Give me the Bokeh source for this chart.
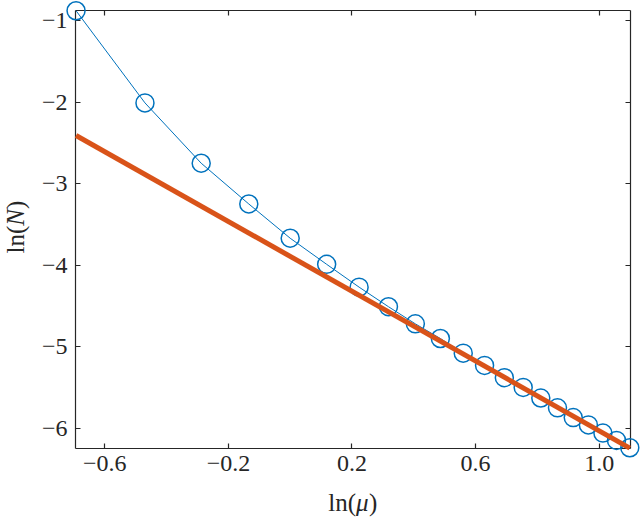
from bokeh.plotting import figure
from bokeh.models import LinearAxis, FixedTicker, Range1d, CustomLabelingPolicy
from bokeh.core.properties import value
from bokeh.embed import file_html
from bokeh.resources import INLINE

# data
ln_mu = [-0.693, -0.470, -0.288, -0.134, 0.0, 0.118, 0.223, 0.318, 0.405, 0.486,
         0.560, 0.629, 0.693, 0.754, 0.811, 0.865, 0.916, 0.965, 1.012, 1.056, 1.099]
ln_N = [-0.88, -2.01, -2.75, -3.25, -3.67, -3.99, -4.27, -4.51, -4.72, -4.90,
        -5.08, -5.23, -5.38, -5.50, -5.63, -5.75, -5.87, -5.96, -6.06, -6.15, -6.24]
fit_x = [-0.693, 1.099]
fit_y = [-2.41, -6.244]

x_ticks = [-0.6, -0.2, 0.2, 0.6, 1.0]
x_tick_labels = ["\u22120.6", "\u22120.2", "0.2", "0.6", "1.0"]
y_ticks = [-6, -5, -4, -3, -2, -1]
y_tick_labels = ["\u22126", "\u22125", "\u22124", "\u22123", "\u22122", "\u22121"]

X0, X1 = -0.6948, 1.1013
Y0, Y1 = -6.249, -0.877

FONT = "Liberation Serif"
INK = "#262626"
BLUE = "#0072BD"
ORANGE = "#D95319"

p = figure(width=640, height=517, output_backend="svg", toolbar_location=None,
           x_range=Range1d(X0, X1), y_range=Range1d(Y0, Y1),
           min_border_left=75, min_border_right=10, min_border_top=10,
           min_border_bottom=69)
p.grid.visible = False
p.outline_line_color = None
p.background_fill_color = "white"
p.border_fill_color = "white"


def style(ax, ticks, labels=None):
    ax.ticker = FixedTicker(ticks=ticks)
    ax.major_tick_in = 5
    ax.major_tick_out = 0
    ax.minor_tick_in = 0
    ax.minor_tick_out = 0
    ax.axis_line_color = INK
    ax.axis_line_width = 1.2
    ax.major_tick_line_color = INK
    ax.major_tick_line_width = 1.2
    ax.major_label_text_font = FONT
    ax.major_label_text_color = INK
    if labels is None:
        # mirrored axis: ticks only, no labels drawn
        ax.major_label_text_font_size = "0px"
        ax.major_label_standoff = 0
        ax.major_label_policy = CustomLabelingPolicy(
            code="for (const i of indices) indices.unset(i)")
    else:
        ax.major_label_text_font_size = "24px"
        ax.major_label_overrides = {t: s for t, s in zip(ticks, labels)}


style(p.xaxis[0], x_ticks, x_tick_labels)
p.xaxis[0].major_label_standoff = 7
style(p.yaxis[0], y_ticks, y_tick_labels)
p.yaxis[0].major_label_standoff = 8

top = LinearAxis()
style(top, x_ticks)
p.add_layout(top, "above")
right = LinearAxis()
style(right, y_ticks)
p.add_layout(right, "right")

p.line(ln_mu, ln_N, line_color=BLUE, line_width=1, level="overlay")
p.scatter(ln_mu, ln_N, marker="circle", size=18, fill_color=None,
          line_color=BLUE, line_width=1.5, level="overlay")
p.line(fit_x, fit_y, line_color=ORANGE, line_width=5, level="overlay")

# axis titles built from pieces (roman + italic), drawn unclipped
xs = (X1 - X0) / 555.0   # data per pixel, x
ys = (Y1 - Y0) / 438.0   # data per pixel, y
FS = "25px"

xb = Y0 - 54 * ys
xl0 = X0 + 252.7 * xs
for txt, dx, st in [("ln(", 0.0, "normal"), ("\u03bc", 27.8, "italic"), (")", 40.8, "normal")]:
    p.text(x=[xl0 + dx * xs], y=[xb], text=[txt], text_font=value(FONT),
           text_font_size=value(FS), text_font_style=value(st), text_color=INK,
           text_align=value("left"), text_baseline=value("alphabetic"),
           level="overlay")

yxb = X0 - 60 * xs
yl0 = Y1 - 243 * ys
for txt, dy, st in [("ln(", 0.0, "normal"), ("N", 27.8, "italic"), (")", 44.5, "normal")]:
    p.text(x=[yxb], y=[yl0 + dy * ys], text=[txt], text_font=value(FONT),
           text_font_size=value(FS), text_font_style=value(st), text_color=INK,
           text_align=value("left"), text_baseline=value("alphabetic"),
           angle=1.5707963, level="overlay")

open("out.html", "w").write(file_html(p, INLINE))
